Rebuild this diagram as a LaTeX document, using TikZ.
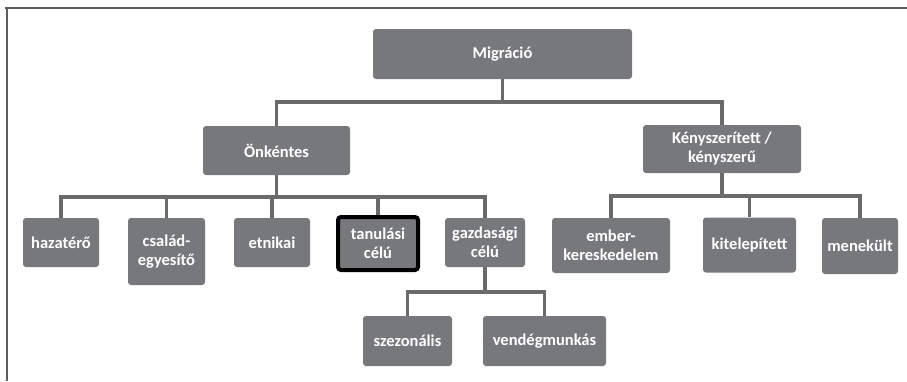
\documentclass[tikz,border=0pt]{standalone}
\usepackage{fontspec}
\setmainfont{Carlito}
\definecolor{boxgray}{HTML}{77787B}
\definecolor{linegray}{HTML}{6A6A6C}
\definecolor{framegray}{HTML}{5E5E5E}
\tikzset{
  catbox/.style={fill=boxgray, rounded corners=3pt, text=white, align=center,
    inner sep=0pt, font=\fontsize{16.5}{19}\selectfont\bfseries},
  conn/.style={draw=linegray, line width=3.5pt},
}
\begin{document}
\begin{tikzpicture}[x=1pt, y=-1pt]
      \useasboundingbox (0,0) rectangle (907,381);
      % frame
      \draw [framegray, line width=2pt] (5,8) -- (907,8);
      \draw [framegray, line width=2pt] (7,8) -- (7,381);
      % top level
      \node [catbox, minimum width=259pt, minimum height=50pt] (mig) at (502.5, 54) {Migráció};
      \node [catbox, minimum width=147pt, minimum height=49pt] (onk) at (276.5, 150.5) {Önkéntes};
      \node [catbox, minimum width=158pt, minimum height=48pt] (keny) at (722, 149) {Kényszerített /\\kényszerű};
      % voluntary
      \node [catbox, minimum width=76pt, minimum height=49pt] (haza) at (61, 242.5) {hazatérő};
      \node [catbox, minimum width=77pt, minimum height=67pt] (csal) at (166.5, 251.5) {család-\\egyesítő};
      \node [catbox, minimum width=76pt, minimum height=49pt] (etn) at (272, 242.5) {etnikai};
      \node [catbox, draw=black, line width=4pt, minimum width=80pt, minimum height=53pt] (tan) at (378, 243.5) {tanulási\\célú};
      \node [catbox, minimum width=80pt, minimum height=49pt] (gazd) at (485, 242.5) {gazdasági\\célú};
      % forced
      \node [catbox, minimum width=118pt, minimum height=55pt] (ember) at (611, 245.5) {ember-\\kereskedelem};
      \node [catbox, minimum width=93pt, minimum height=55pt] (kitel) at (749.5, 245) {kitelepített};
      \node [catbox, minimum width=76pt, minimum height=56pt] (menek) at (860, 246) {menekült};
      % economic
      \node [catbox, minimum width=89pt, minimum height=50pt] (szez) at (407.5, 341) {szezonális};
      \node [catbox, minimum width=123pt, minimum height=50pt] (vend) at (544.5, 341) {vendégmunkás};
      % connectors
      \foreach \c in {onk,keny}
        \draw [conn] (mig.south) -- ++(0,23) -| (\c.north);
      \foreach \c in {haza,csal,etn,tan,gazd}
        \draw [conn] (onk.south) -- ++(0,22) -| (\c.north);
      \foreach \c in {ember,kitel,menek}
        \draw [conn] (keny.south) -- ++(0,23) -| (\c.north);
      \foreach \c in {szez,vend}
        \draw [conn] (gazd.south) -- ++(0,25) -| (\c.north);
\end{tikzpicture}
\end{document}
